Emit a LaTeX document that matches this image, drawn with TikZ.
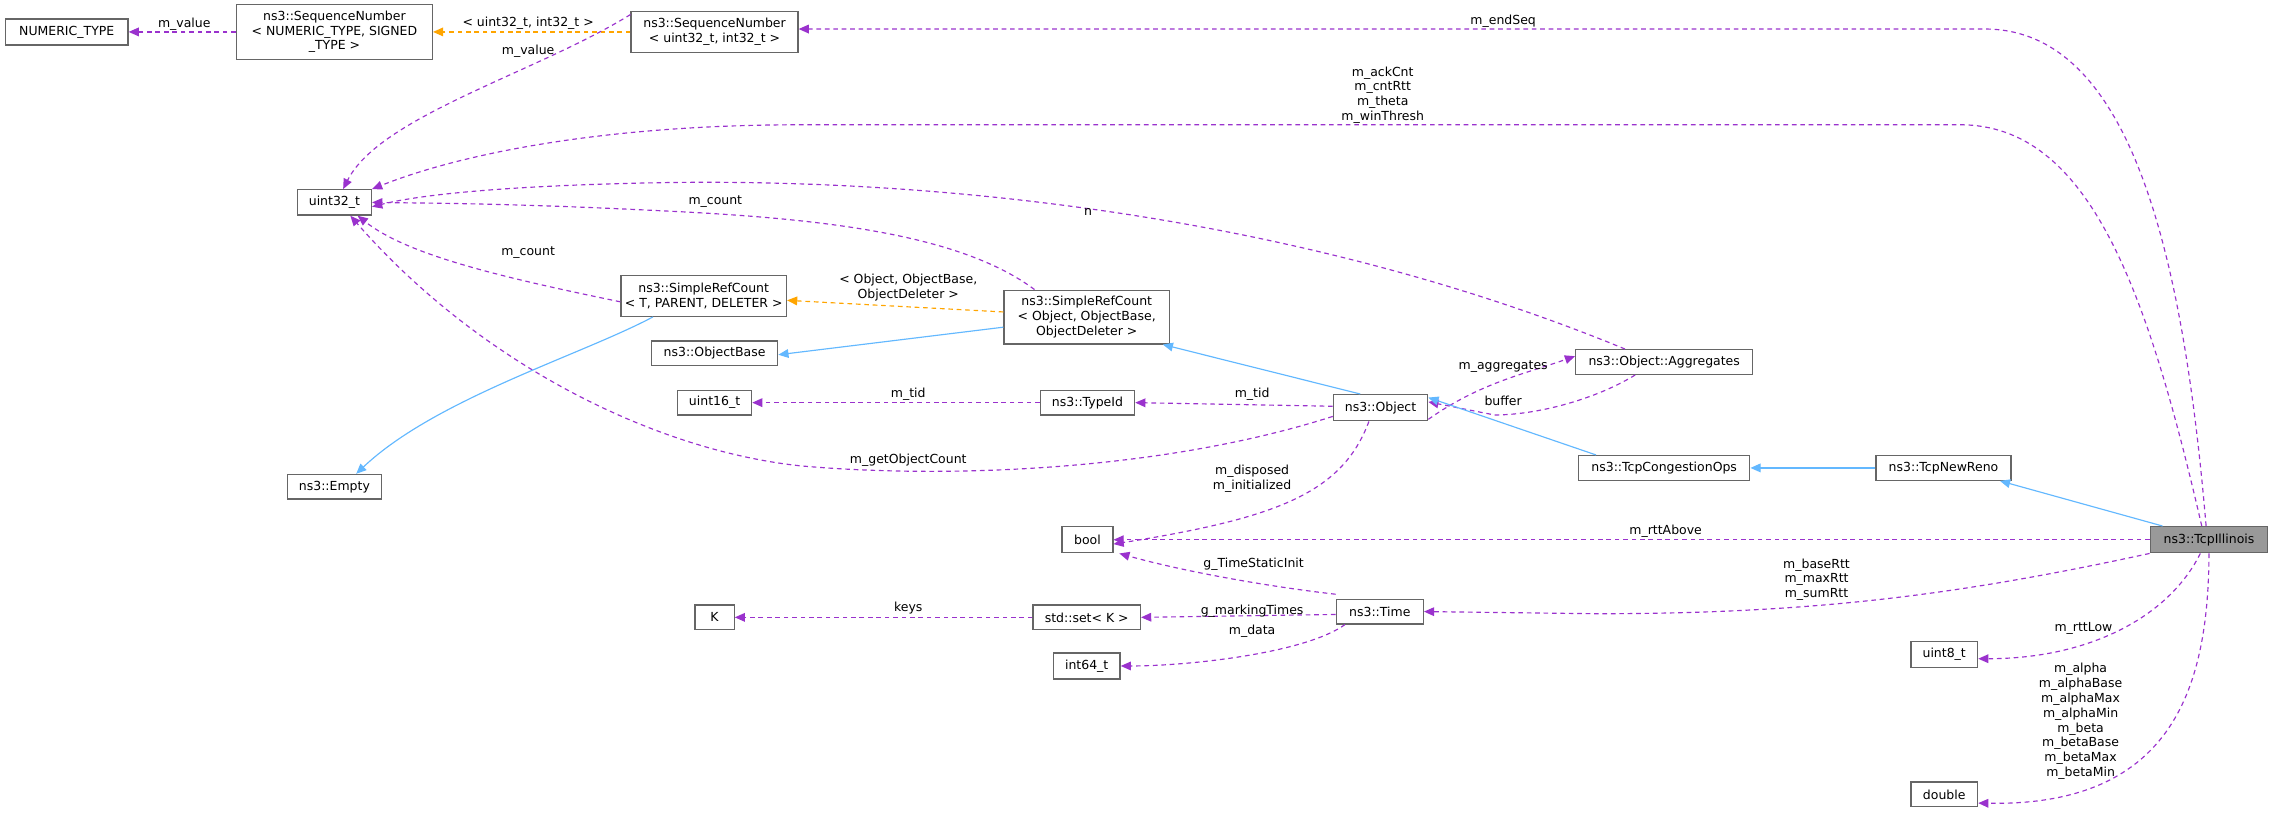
\documentclass[tikz,border=0pt]{standalone}
\usepackage{fontspec}
\setmainfont{DejaVu Sans}
\usetikzlibrary{arrows.meta}
\definecolor{mem}{HTML}{9A32CD}
\definecolor{inh}{HTML}{63B8FF}
\definecolor{tpl}{HTML}{FFA500}
\definecolor{bord}{HTML}{666666}
\begin{document}
\begin{tikzpicture}[x=1pt,y=-1pt,
  every node/.style={font=\fontsize{8.6}{10.2}\selectfont, inner sep=0pt},
  box/.style={draw=bord, line width=0.9pt, fill=white, align=center},
  lbl/.style={align=center},
  memb/.style={draw=mem, line width=0.8pt, dash pattern=on 3.2pt off 2.6pt, -{Triangle[length=7pt,width=6pt]}},
  inher/.style={draw=inh, line width=0.8pt, -{Triangle[length=7pt,width=6pt]}},
  tmpl/.style={draw=tpl, line width=0.8pt, dash pattern=on 3.2pt off 2.6pt, -{Triangle[length=7pt,width=6pt]}}]
\useasboundingbox (0,0) rectangle (1568,560.3);
% nodes
\node[box,minimum width=84.5pt,minimum height=18pt] (NT) at (46,22) {NUMERIC\_TYPE};
\node[box,minimum width=135pt,minimum height=38pt] (SNT) at (230.5,22) {ns3::SequenceNumber\\\textless{} NUMERIC\_TYPE, SIGNED\\\_TYPE \textgreater};
\node[box,minimum width=115pt,minimum height=28pt] (SNU) at (492.5,22) {ns3::SequenceNumber\\\textless{} uint32\_t, int32\_t \textgreater};
\node[box,minimum width=51pt,minimum height=17.5pt] (U32) at (230.5,139.5) {uint32\_t};
\node[box,minimum width=114pt,minimum height=28pt] (SRCT) at (485,204) {ns3::SimpleRefCount\\\textless{} T, PARENT, DELETER \textgreater};
\node[box,minimum width=87pt,minimum height=17pt] (OB) at (492.5,243.5) {ns3::ObjectBase};
\node[box,minimum width=51pt,minimum height=17pt] (U16) at (492.5,277.5) {uint16\_t};
\node[box,minimum width=65pt,minimum height=17pt] (EMP) at (230.5,335.5) {ns3::Empty};
\node[box,minimum width=27pt,minimum height=17pt] (K) at (492.5,425.5) {K};
\node[box,minimum width=114pt,minimum height=37pt] (SRCO) at (749,218.5) {ns3::SimpleRefCount\\\textless{} Object, ObjectBase,\\ObjectDeleter \textgreater};
\node[box,minimum width=65pt,minimum height=17pt] (TID) at (749.5,277.5) {ns3::TypeId};
\node[box,minimum width=35pt,minimum height=18pt] (BOOL) at (749.5,372) {bool};
\node[box,minimum width=74pt,minimum height=17pt] (SET) at (749,425.5) {std::set\textless{} K \textgreater};
\node[box,minimum width=46pt,minimum height=18pt] (I64) at (749,459) {int64\_t};
\node[box,minimum width=65pt,minimum height=18pt] (OBJ) at (951.5,281) {ns3::Object};
\node[box,minimum width=60pt,minimum height=17pt] (TIME) at (951,421.5) {ns3::Time};
\node[box,minimum width=122pt,minimum height=17pt] (AGG) at (1147,249.5) {ns3::Object::Aggregates};
\node[box,minimum width=118pt,minimum height=17pt] (TCO) at (1147,322.5) {ns3::TcpCongestionOps};
\node[box,minimum width=93pt,minimum height=17pt] (NR) at (1339.5,322.5) {ns3::TcpNewReno};
\node[box,fill={rgb,255:red,153;green,153;blue,153},minimum width=81pt,minimum height=18pt] (ILL) at (1522.5,372) {ns3::TcpIllinois};
\node[box,minimum width=46pt,minimum height=18pt] (U8) at (1340,451) {uint8\_t};
\node[box,minimum width=46pt,minimum height=17pt] (DBL) at (1340,547.5) {double};
% coordinates
\coordinate (c1) at (1368,20);
\coordinate (c2) at (1351,86);
\coordinate (c3) at (551,86);
% edges
\draw[memb] (SNT.west) -- (NT.east);
\node[lbl] (l1) at (127,16.5) {m\_value};
\draw[tmpl] (SNU.west) -- (SNT.east);
\node[lbl] (l2) at (364,16) {\textless{} uint32\_t, int32\_t \textgreater};
\draw[memb] ([yshift=12pt]SNU.west) .. controls (370,50) and (262,80) .. ([xshift=6pt]U32.north);
\node[lbl] (l3) at (364,35) {m\_value};
\draw[memb] ([xshift=-2pt]ILL.north) .. controls (1505,180) and (1470,20) .. (c1) -- (SNU.east |- c1);
\node[lbl] (l4) at (1036,14.5) {m\_endSeq};
\draw[memb] ([xshift=-5pt]ILL.north) .. controls (1480,200) and (1440,86) .. (c2) -- (c3) .. controls (420,86) and (320,105) .. (U32.north east);
\node[lbl] (l5) at (953,65.5) {m\_ackCnt\\m\_cntRtt\\m\_theta\\m\_winThresh};
\draw[memb] ([xshift=-27pt]AGG.north) .. controls (900,150) and (650,122) .. (450,126) .. controls (350,128) and (290,134) .. ([yshift=-3pt]U32.east);
\node[lbl] (l6) at (750,146) {n};
\draw[memb] ([xshift=-36pt]SRCO.north) .. controls (660,160) and (560,150) .. (450,145) .. controls (350,140) and (290,140) .. ([yshift=0pt]U32.east);
\node[lbl] (l7) at (493,139) {m\_count};
\draw[memb] ([yshift=-4pt]SRCT.west) .. controls (340,190) and (280,175) .. ([xshift=16pt]U32.south);
\node[lbl] (l8) at (364,174) {m\_count};
\draw[memb] ([yshift=-6pt]OBJ.west) .. controls (800,325) and (650,330) .. (551,321) .. controls (450,310) and (330,250) .. ([xshift=11pt]U32.south);
\node[lbl] (l9) at (626,317) {m\_getObjectCount};
\draw[inher] ([xshift=-35pt]SRCT.south) .. controls (400,245) and (300,275) .. ([xshift=15pt]EMP.north);
\draw[inher] ([yshift=-7pt]SRCO.west) -- ([yshift=-1pt]OB.east);
\draw[tmpl] ([yshift=3.5pt]SRCO.west) -- ([yshift=-3pt]SRCT.east);
\node[lbl] (l10) at (626,198) {\textless{} Object, ObjectBase,\\ObjectDeleter \textgreater};
\draw[inher] ([xshift=-14pt]OBJ.north) -- ([xshift=-5pt]SRCO.south east);
\draw[memb] ([yshift=1pt]OBJ.west) -- (TID.east);
\node[lbl] (l11) at (863,272) {m\_tid};
\draw[memb] (TID.west) -- (U16.east);
\node[lbl] (l12) at (626,272) {m\_tid};
\draw[memb] ([yshift=-8pt]OBJ.east) .. controls (1020,264) and (1050,258) .. ([yshift=4pt]AGG.west);
\node[lbl] (l13) at (1036,253) {m\_aggregates};
\draw[memb] ([xshift=-20pt]AGG.south) .. controls (1100,275) and (1060,286) .. (1030,286) -- ([yshift=4pt]OBJ.east);
\node[lbl] (l14) at (1036,276) {buffer};
\draw[inher] ([xshift=-47pt]TCO.north) -- ([yshift=7pt]OBJ.east);
\draw[inher] (NR.west) -- (TCO.east);
\draw[inher] ([xshift=-32pt]ILL.north) -- ([xshift=-8pt]NR.south east);
\draw[memb] (ILL.west) -- (BOOL.east);
\node[lbl] (l15) at (1148,366) {m\_rttAbove};
\draw[memb] (ILL.south west) .. controls (1350,410) and (1250,423) .. (1100,423) -- (TIME.east);
\node[lbl] (l16) at (1252,399.5) {m\_baseRtt\\m\_maxRtt\\m\_sumRtt};
\draw[memb] ([xshift=-8pt]OBJ.south) .. controls (925,340) and (880,357) .. ([yshift=-3pt]BOOL.east);
\node[lbl] (l17) at (863,330) {m\_disposed\\m\_initialized};
\draw[memb] ([yshift=3pt]TIME.north west) .. controls (880,405) and (820,395) .. ([xshift=4pt]BOOL.south east);
\node[lbl] (l18) at (864,389) {g\_TimeStaticInit};
\draw[memb] ([yshift=-2pt]TIME.west) -- (SET.east);
\node[lbl] (l19) at (863,421) {g\_markingTimes};
\draw[memb] (SET.west) -- (K.east);
\node[lbl] (l20) at (626,419) {keys};
\draw[memb] ([xshift=-24pt]TIME.south) .. controls (900,450) and (820,459) .. (I64.east);
\node[lbl] (l21) at (863,435) {m\_data};
\draw[memb] ([xshift=-6pt]ILL.south) .. controls (1495,425) and (1440,454) .. ([yshift=-3pt]U8.east);
\node[lbl] (l22) at (1436,433.4) {m\_rttLow};
\draw[memb] (ILL.south) .. controls (1522,470) and (1500,556) .. ([yshift=-6pt]DBL.east);
\node[lbl] (l23) at (1434,497.2) {m\_alpha\\m\_alphaBase\\m\_alphaMax\\m\_alphaMin\\m\_beta\\m\_betaBase\\m\_betaMax\\m\_betaMin};
\end{tikzpicture}
\end{document}
